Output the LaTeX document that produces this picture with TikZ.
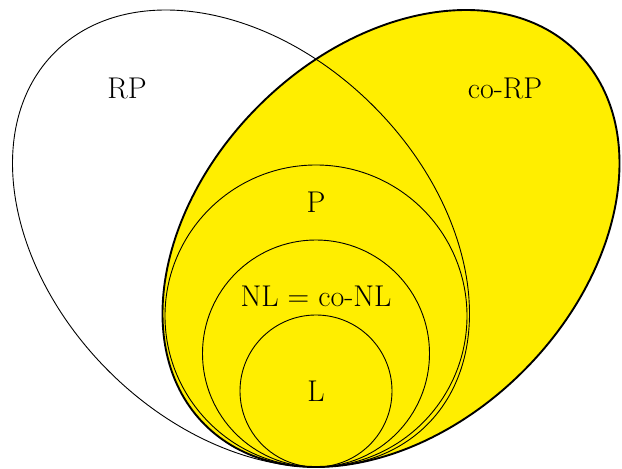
\documentclass[tikz,border=0pt]{standalone}
\begin{document}
\begin{tikzpicture}[x=1pt,y=1pt,
  thinline/.style={draw=black,line width=0.9pt},
  thickline/.style={draw=black,line width=1.9pt},
  lbl/.style={font=\fontsize{30}{36}\selectfont,inner sep=0pt}]
\useasboundingbox (0,0) rectangle (622,469);
% co-RP ellipse (filled)
\path[thickline,fill={rgb,255:red,255;green,238;blue,0}] (391,230.5) [rotate around={45:(391,230.5)}] ellipse [x radius=263.3, y radius=187.3];
% RP ellipse (outline)
\path[thinline] (241,230.5) [rotate around={-45:(241,230.5)}] ellipse [x radius=263.3, y radius=187.3];
% circles
\node[thinline,circle,minimum size=302pt,inner sep=0pt] (P) at (316,153) {};
\node[thinline,circle,minimum size=227pt,inner sep=0pt] (NL) at (316,115.5) {};
\node[thinline,circle,minimum size=152pt,inner sep=0pt] (L) at (316,78) {};
% labels
\node[lbl] (tRP) at (127,380.5) {RP};
\node[lbl] (tcoRP) at (505,380.5) {co-RP};
\node[lbl] (tP) at (316,266.5) {P};
\node[lbl] (tNL) at (316,172.5) {NL = co-NL};
\node[lbl] (tL) at (316,77.5) {L};
\end{tikzpicture}
\end{document}
